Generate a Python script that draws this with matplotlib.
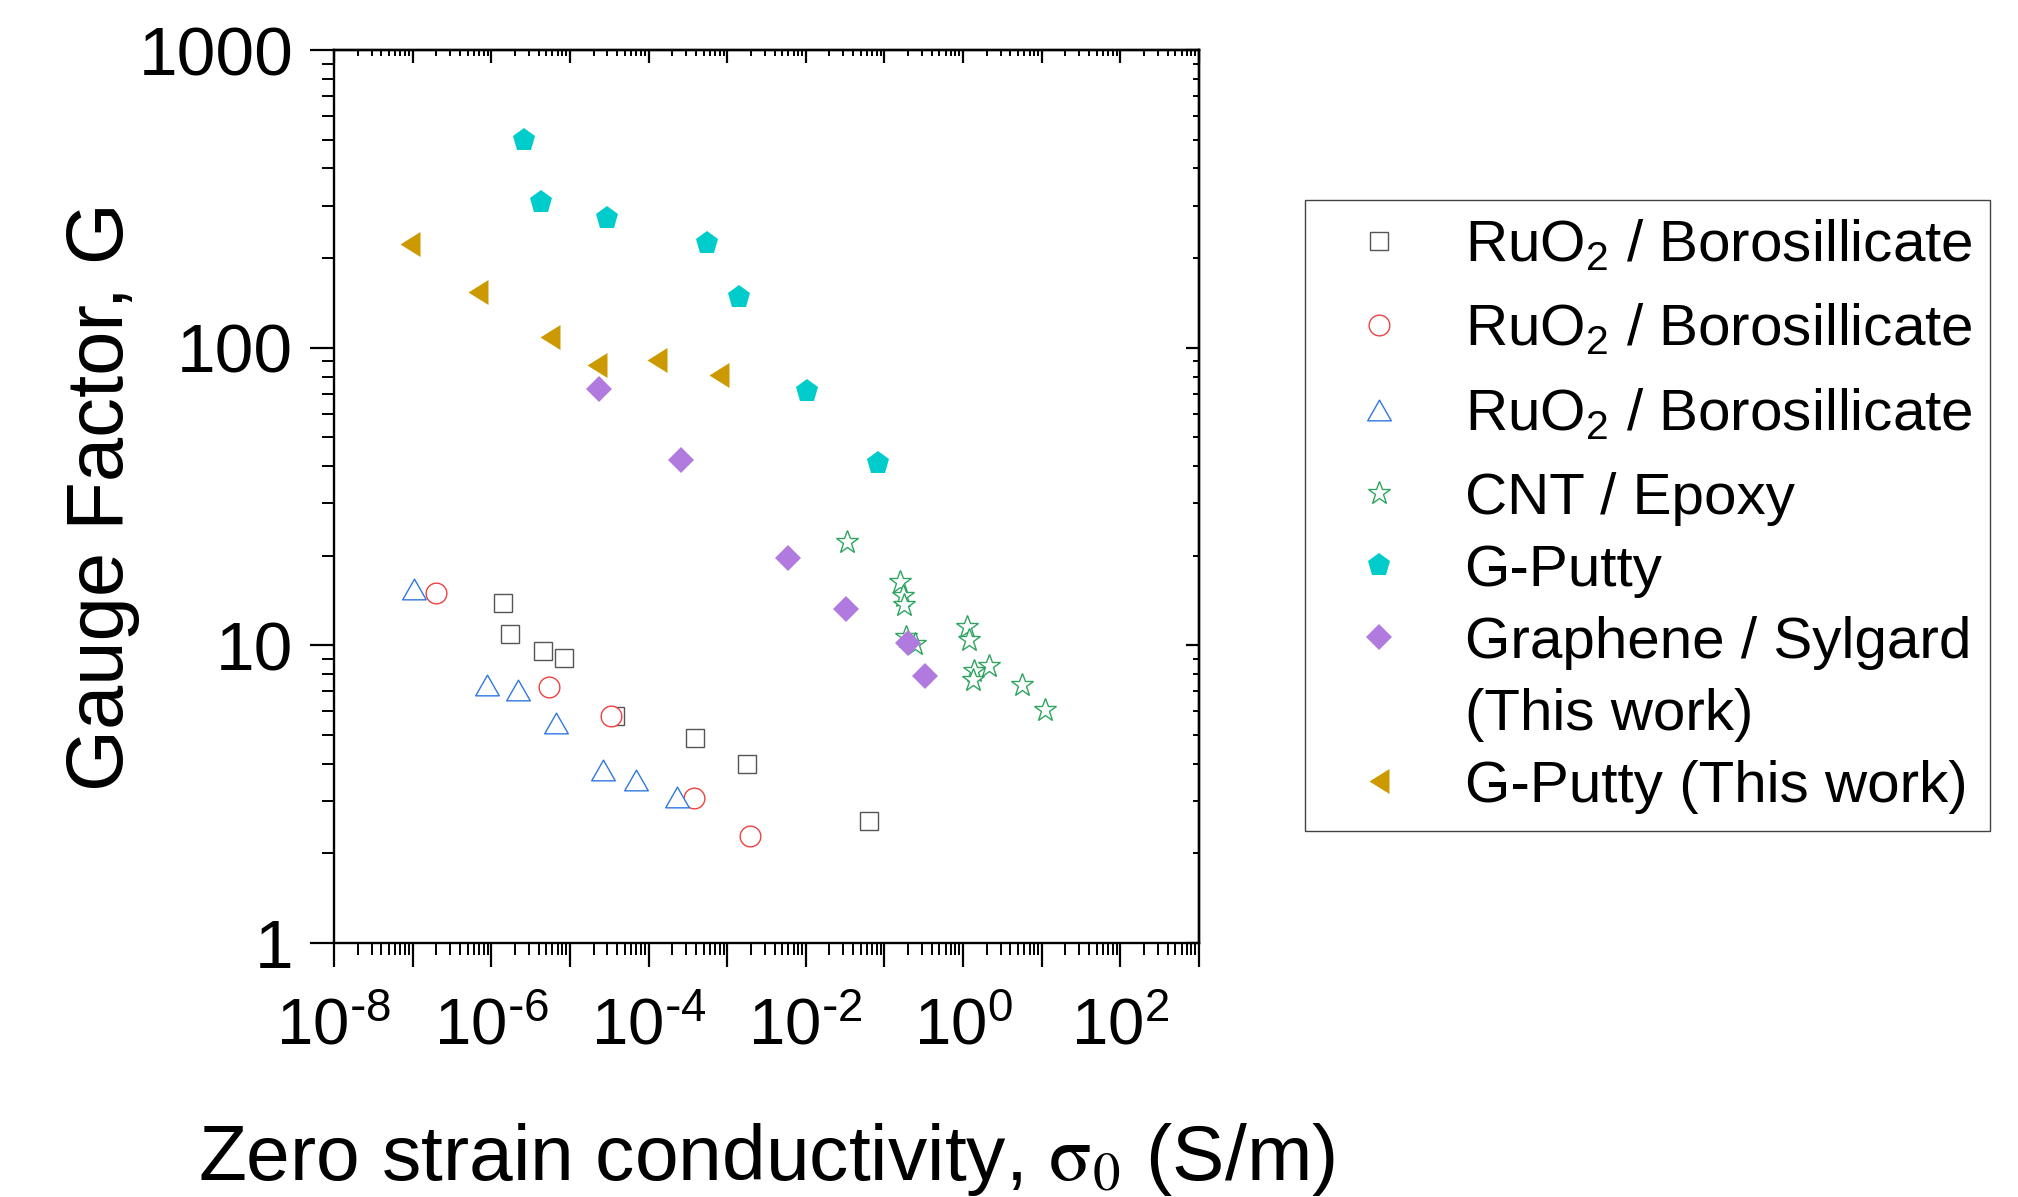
import numpy as np
import matplotlib
matplotlib.use("Agg")
import matplotlib.pyplot as plt
from matplotlib.lines import Line2D
from matplotlib.ticker import LogLocator, FuncFormatter, NullFormatter
from matplotlib.path import Path

# ---------------- data ----------------
ruo2_a_x = [1.40e-6, 1.75e-6, 4.6e-6, 8.4e-6, 3.7e-5, 3.9e-4, 1.8e-3, 0.064]
ruo2_a_y = [13.9, 10.9, 9.6, 9.1, 5.8, 4.9, 4.0, 2.56]

ruo2_b_x = [2.0e-7, 5.5e-6, 3.3e-5, 3.8e-4, 1.97e-3]
ruo2_b_y = [15.0, 7.26, 5.77, 3.08, 2.28]

ruo2_c_x = [1.03e-7, 8.9e-7, 2.17e-6, 6.6e-6, 2.6e-5, 6.95e-5, 2.29e-4]
ruo2_c_y = [15.5, 7.37, 7.06, 5.50, 3.82, 3.52, 3.10]

cnt_x = [0.0333, 0.157, 0.173, 0.179, 0.188, 0.246, 1.12, 1.18, 1.39, 1.35, 2.12, 5.62, 11.0]
cnt_y = [22.2, 16.3, 14.6, 13.7, 10.7, 10.1, 11.5, 10.4, 8.22, 7.65, 8.54, 7.36, 6.06]

gputty_x = [2.62e-6, 4.33e-6, 3.0e-5, 5.6e-4, 1.41e-3, 0.0104, 0.0826]
gputty_y = [500, 308, 272, 225, 147.6, 71.3, 40.9]

graphene_x = [2.33e-5, 2.62e-4, 5.9e-3, 0.0322, 0.201, 0.327]
graphene_y = [72.6, 41.9, 19.7, 13.2, 10.2, 7.87]

gputty_tw_x = [9.35e-8, 6.7e-7, 5.6e-6, 2.18e-5, 1.29e-4, 7.8e-4]
gputty_tw_y = [223, 153.5, 108.9, 87.7, 90.9, 80.7]

labels = [r"RuO$_\mathregular{2}$ / Borosillicate",
          r"RuO$_\mathregular{2}$ / Borosillicate",
          r"RuO$_\mathregular{2}$ / Borosillicate",
          "CNT / Epoxy",
          "G-Putty",
          "Graphene / Sylgard",
          "(This work)",
          "G-Putty (This work)"]

x_label = r"Zero strain conductivity, $\mathrm{\sigma_0}$ (S/m)"
y_label = "Gauge Factor, G"

# ---------------- style ----------------
plt.rcParams['font.family'] = ['Liberation Sans', 'DejaVu Sans']

fig = plt.figure(figsize=(20.18, 11.97), dpi=100)
ax = fig.add_axes([334/2018, 1-943/1197, 865/2018, 893/1197])

tri_up = Path([(0, 0.875), (-1, -0.875), (1, -0.875), (0, 0.875)],
              [Path.MOVETO, Path.LINETO, Path.LINETO, Path.CLOSEPOLY])
tri_left = Path([(-0.8, 0), (0.8, 1), (0.8, -1), (-0.8, 0)],
                [Path.MOVETO, Path.LINETO, Path.LINETO, Path.CLOSEPOLY])

open_kw = dict(linestyle='none', markerfacecolor='white', markeredgewidth=1.0)
h1, = ax.plot(ruo2_a_x, ruo2_a_y, marker='s', ms=12.6, markeredgecolor='#555555', **open_kw)
h2, = ax.plot(ruo2_b_x, ruo2_b_y, marker='o', ms=14.9, markeredgecolor='#EE4040', **open_kw)
h3, = ax.plot(ruo2_c_x, ruo2_c_y, marker=tri_up, ms=17.0, markeredgecolor='#2F78E0', **open_kw)
h4, = ax.plot(cnt_x, cnt_y, marker='*', ms=17.2, markeredgecolor='#2FA460', **open_kw)
h5, = ax.plot(gputty_x, gputty_y, marker='p', ms=17.4, linestyle='none',
              color='#00CCCC', markeredgewidth=0)
h6, = ax.plot(graphene_x, graphene_y, marker='D', ms=13.1, linestyle='none',
              color='#B07ADF', markeredgewidth=0)
h7, = ax.plot(gputty_tw_x, gputty_tw_y, marker=tri_left, ms=18.0, linestyle='none',
              color='#CC9900', markeredgewidth=0)
blank = Line2D([], [], linestyle='none')

ax.set_xscale('log')
ax.set_yscale('log')
ax.set_xlim(1e-8, 1e3)
ax.set_ylim(1, 1000)


def xfmt(v, pos):
    e = int(round(np.log10(v)))
    if e % 2 != 0:
        return ""
    if e < 0:
        return r"$\mathregular{10^{\text{-}%d}}$" % (-e)
    return r"$\mathregular{10^{%d}}$" % e


def yfmt(v, pos):
    return "%d" % int(round(v))


ax.xaxis.set_major_locator(LogLocator(base=10, numticks=100))
ax.xaxis.set_minor_locator(LogLocator(base=10, subs=np.arange(2, 10), numticks=100))
ax.xaxis.set_major_formatter(FuncFormatter(xfmt))
ax.xaxis.set_minor_formatter(NullFormatter())
ax.yaxis.set_major_locator(LogLocator(base=10, numticks=100))
ax.yaxis.set_minor_locator(LogLocator(base=10, subs=np.arange(2, 10), numticks=100))
ax.yaxis.set_major_formatter(FuncFormatter(yfmt))
ax.yaxis.set_minor_formatter(NullFormatter())

ax.tick_params(which='major', direction='out', length=17.3, width=1.6)
ax.tick_params(which='minor', direction='out', length=8.6, width=1.4)
ax.tick_params(axis='x', which='major', pad=22, labelsize=47)
ax.tick_params(axis='y', which='major', pad=12, labelsize=50)
for s in ax.spines.values():
    s.set_linewidth(1.7)

# top / right inward ticks
ident = (lambda v: v, lambda v: v)
secx = ax.secondary_xaxis('top', functions=ident)
secy = ax.secondary_yaxis('right', functions=ident)
for sec, axis in ((secx, secx.xaxis), (secy, secy.yaxis)):
    axis.set_major_locator(LogLocator(base=10, numticks=100))
    axis.set_minor_locator(LogLocator(base=10, subs=np.arange(2, 10), numticks=100))
    axis.set_major_formatter(NullFormatter())
    axis.set_minor_formatter(NullFormatter())
    sec.tick_params(which='major', direction='in', length=9.4, width=1.6)
    sec.tick_params(which='minor', direction='in', length=4.3, width=1.4)
    for s in sec.spines.values():
        s.set_linewidth(1.7)

ax.set_xlabel(x_label, fontsize=56.5, math_fontfamily='stix')
ax.set_ylabel(y_label, fontsize=57.3)
ax.xaxis.set_label_coords(0.5, -0.199)
ax.yaxis.set_label_coords(-0.2246, 0.5)

leg = ax.legend([h1, h2, h3, h4, h5, h6, blank, h7], labels,
                loc='upper left', bbox_to_anchor=(1305/2018, 1-200/1197),
                bbox_transform=fig.transFigure, borderaxespad=0,
                fontsize=42, frameon=True, fancybox=False, framealpha=1,
                edgecolor='#444444', borderpad=0.3, handlelength=1.926,
                handletextpad=0.51, labelspacing=0.31, markerscale=1.0,
                numpoints=1)
leg.get_frame().set_linewidth(1.0)

# rows with a subscript are taller (deeper descent) in the original
fig.canvas.draw()
renderer = fig.canvas.get_renderer()
dpi_cor = renderer.points_to_pixels(1.0)
items = leg._legend_handle_box.get_children()[0].get_children()
extra_px = 11.0
for it in items[:3]:
    da, ta = it.get_children()[0], it.get_children()[1]
    tb = ta.get_bbox(renderer)
    text_desc = -tb.y0
    new_yd = (text_desc + extra_px) / dpi_cor
    delta = new_yd - da.ydescent
    da.ydescent = new_yd
    da.height += delta

fig.savefig("out.png", dpi=100)
